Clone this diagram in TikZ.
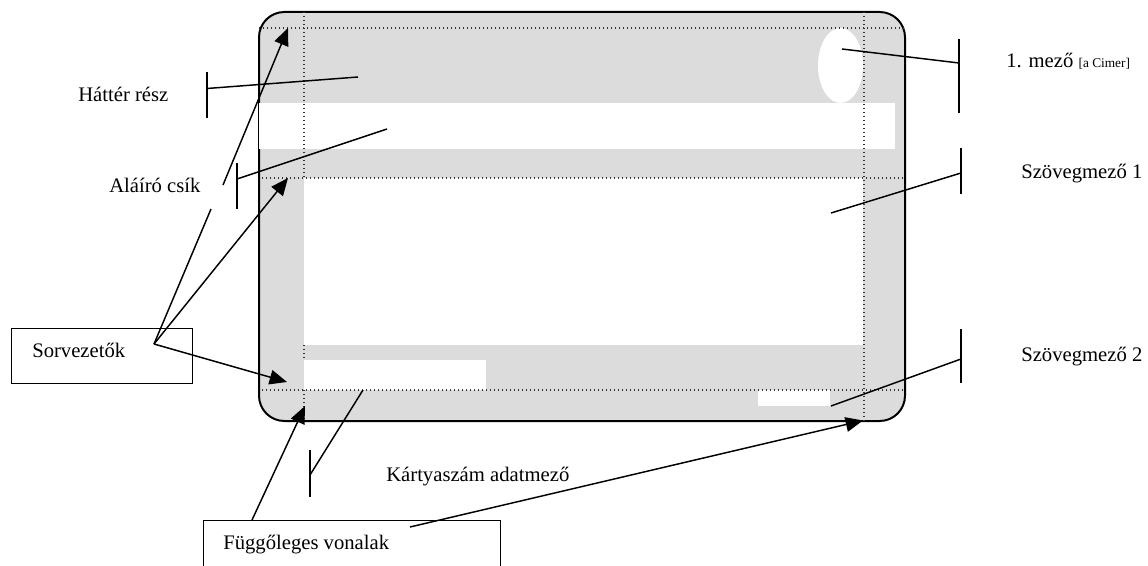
\documentclass[tikz,border=0pt]{standalone}
\usepackage{fontspec}
\setmainfont{Liberation Serif}
\usetikzlibrary{arrows.meta}
\definecolor{cardgray}{HTML}{DCDCDC}
\tikzset{
  x=0.75pt,y=-0.75pt,
  ink/.style={draw=black,line width=1.1pt},
  leader/.style={ink},
  pointer/.style={ink,-{Triangle[length=13pt,width=11pt]}},
  guide/.style={draw=black!80,line width=0.95pt,dash pattern=on 1.05pt off 1.95pt},
  blank/.style={fill=white,draw=none},
  lbl/.style={inner sep=0pt,anchor=base west,font=\fontsize{15.5pt}{18pt}\selectfont},
  framebox/.style={ink,fill=white,inner sep=0pt,anchor=north west}
}
\begin{document}
\begin{tikzpicture}
\useasboundingbox (0,0) rectangle (1148,566);
\fill[cardgray,rounded corners=19pt] (259,12) rectangle (905,421);
\draw[ink,line width=1.5pt,rounded corners=19pt] (259,12) rectangle (905,421);
\fill[blank] (259,103) rectangle (895,149);
\fill[blank] (304,178) rectangle (863,345);
\fill[blank] (304,360) rectangle (486,390);
\fill[blank] (758,390) rectangle (830,406);
\fill[blank] (840.5,65.5) ellipse [x radius=22.5,y radius=37.5];
\draw[guide] (259,28) -- (905,28);
\draw[guide] (262,178) -- (905,178);
\draw[guide] (262,390) -- (905,390);
\draw[guide] (304,12) -- (304,178);
\draw[guide] (304,345) -- (304,360);
\draw[guide] (304,390) -- (304,421);
\draw[guide] (864,12) -- (864,421);
\coordinate (t1a) at (207,72); \coordinate (t1b) at (207,118);
\coordinate (t2a) at (237,163); \coordinate (t2b) at (237,209);
\coordinate (t3a) at (959,39); \coordinate (t3b) at (959,113);
\coordinate (t4a) at (961,148); \coordinate (t4b) at (961,194);
\coordinate (t5a) at (961,329); \coordinate (t5b) at (961,383);
\coordinate (t6a) at (310,450); \coordinate (t6b) at (310,497);
\draw[leader] (t1a) -- (t1b);
\draw[leader] (t2a) -- (t2b);
\draw[leader] (t3a) -- (t3b);
\draw[leader] (t4a) -- (t4b);
\draw[leader] (t5a) -- (t5b);
\draw[leader] (t6a) -- (t6b);
\coordinate (e1) at (358,77);
\coordinate (e2) at (387,129);
\coordinate (e3) at (842,49);
\coordinate (e4) at (831,213);
\coordinate (e5) at (831,406);
\coordinate (e6) at (363,390);
\draw[leader] (207,88.5) -- (e1);
\draw[leader] (237,179) -- (e2);
\draw[leader] (959,63) -- (e3);
\draw[leader] (961,173) -- (e4);
\draw[leader] (961,359) -- (e5);
\draw[leader] (310,475) -- (e6);
\node[lbl] (hatter) at (78,102) {Háttér rész};
\node[lbl] (alairo) at (109,193) {Aláíró csík};
\node[lbl] (mezo) at (1006,68) {1. mező {\fontsize{10pt}{12pt}\selectfont [a Cimer]}};
\node[lbl] (sz1) at (1021,179) {Szövegmező 1};
\node[lbl] (sz2) at (1021,361) {Szövegmező 2};
\node[lbl] (kartya) at (386,481) {Kártyaszám adatmező};
\node[framebox,minimum width=135.75pt,minimum height=41pt] (sor) at (11,328) {};
\node[lbl] at (32,357) {Sorvezetők};
\node[framebox,minimum width=222.75pt,minimum height=40pt] (fugg) at (203,520) {};
\node[lbl] at (223,549) {Függőleges vonalak};
\coordinate (sorv) at (154,344);
\coordinate (a1) at (288,28);
\coordinate (a2) at (288,178);
\coordinate (a3) at (287,382);
\coordinate (a4) at (305,406);
\coordinate (a5) at (863,420.5);
\draw[ink] (sorv) -- (211,209);
\draw[pointer] (223,185) -- (a1);
\draw[pointer] (sorv) -- (a2);
\draw[pointer] (sorv) -- (a3);
\draw[pointer] (252,520) -- (a4);
\draw[pointer] (410,527) -- (a5);
\end{tikzpicture}
\end{document}
